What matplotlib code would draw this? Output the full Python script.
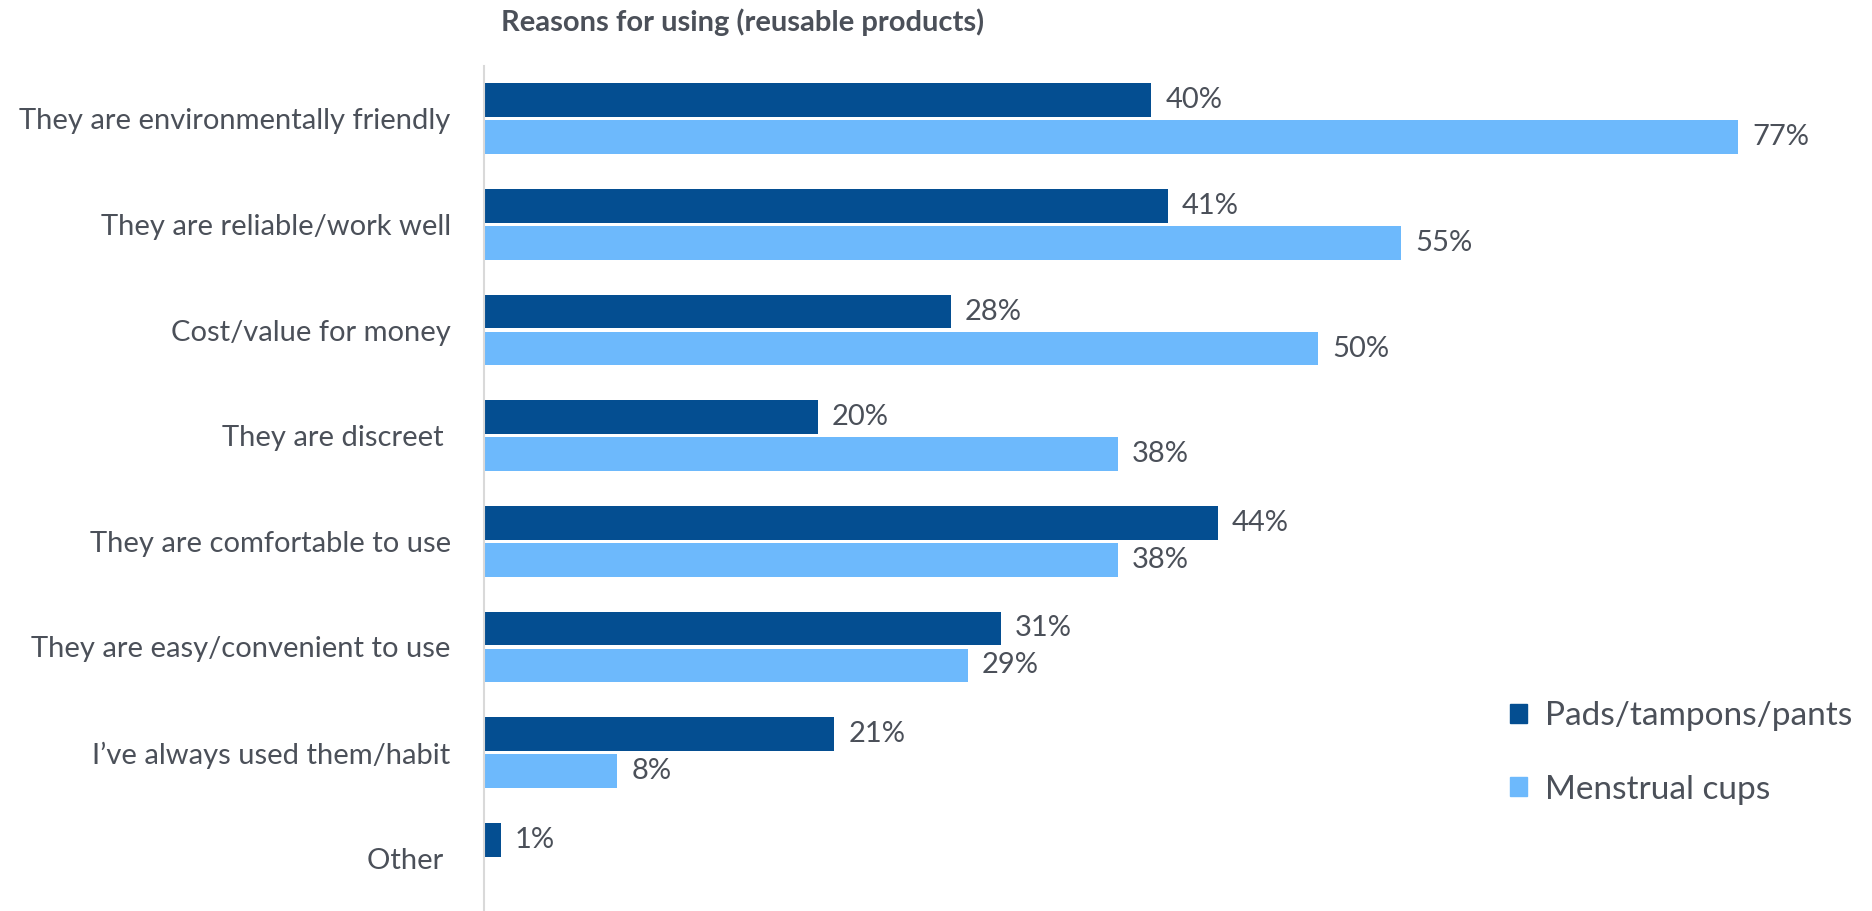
import matplotlib
matplotlib.use("Agg")
import matplotlib.pyplot as plt
import numpy as np
from matplotlib.patches import Patch

categories = ["They are environmentally friendly", "They are reliable/work well",
              "Cost/value for money", "They are discreet ", "They are comfortable to use",
              "They are easy/convenient to use", "I\u2019ve always used them/habit", "Other "]
pads = [40, 41, 28, 20, 44, 31, 21, 1]
cups = [77, 55, 50, 38, 38, 29, 8, None]
series_names = ["Pads/tampons/pants", "Menstrual cups"]
title = "Reasons for using (reusable products)"

dark = "#044E91"
light = "#6DB9FC"
txt = "#4B5059"

plt.rcParams['font.family'] = ['Lato', 'DejaVu Sans']

XMAX = 75.2
fig = plt.figure(figsize=(18.72, 9.11), dpi=100)
ax = fig.add_axes([484/1872, 0, (1738-484)/1872, 1 - 66/911])

y = np.arange(len(categories))
h = 0.32
off = 0.175
for i, v in enumerate(pads):
    ax.barh(y[i] - off, v, height=h, color=dark)
    ax.text(min(v, XMAX) + 0.85, y[i] - off, f"{v}%", va="center", ha="left",
            fontsize=21, color=txt, clip_on=False)
for i, v in enumerate(cups):
    if v is None:
        continue
    ax.barh(y[i] + off, v, height=h, color=light)
    ax.text(min(v, XMAX) + 0.85, y[i] + off, f"{v}%", va="center", ha="left",
            fontsize=21, color=txt, clip_on=False)

ax.set_xlim(0, XMAX)
ax.set_ylim(len(categories) - 0.5, -0.5)
ax.set_yticks(y)
ax.set_yticklabels(categories, fontsize=21, color=txt)
ax.tick_params(axis="y", length=0, pad=24)
ax.set_xticks([])
for s in ["top", "right", "bottom"]:
    ax.spines[s].set_visible(False)
ax.spines["left"].set_color("#D9D9D9")
ax.spines["left"].set_linewidth(1.5)

fig.text(743/1872, 1 - 22/911, title, ha="center", va="center", fontsize=21,
         fontweight="bold", color=txt)

handles = [Patch(color=dark), Patch(color=light)]
leg = fig.legend(handles, series_names, loc="center left", bbox_to_anchor=(1480/1872, 1 - 753/911),
                 frameon=False, fontsize=24, labelcolor=txt, handlelength=0.5, handleheight=0.5,
                 handletextpad=0.55, labelspacing=1.3)

fig.savefig("out.png", dpi=100)
